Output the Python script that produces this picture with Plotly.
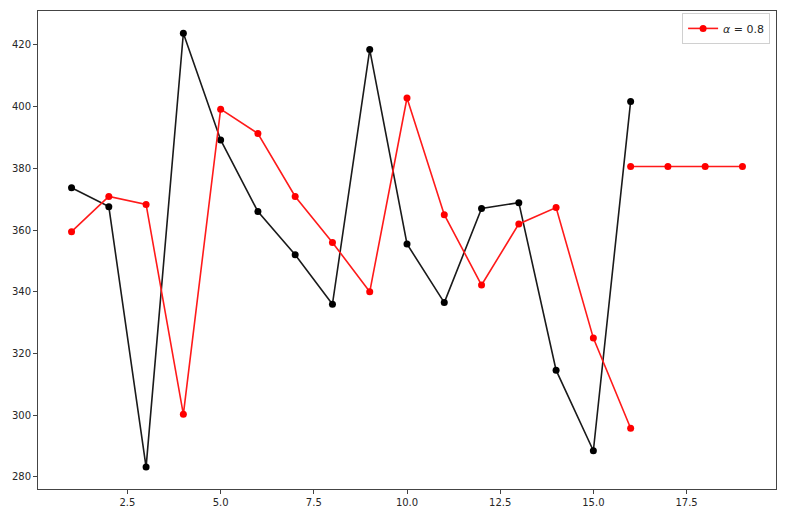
import plotly.graph_objects as go

# observed series (black)
periods = list(range(1, 17))
observed = [373.7, 367.6, 283.2, 423.8, 389.2, 366.0, 352.0, 336.0,
            418.5, 355.5, 336.5, 367.0, 368.9, 314.6, 288.5, 401.7]

# fitted values of simple exponential smoothing, alpha = 0.8 (red)
fitted = [359.5, 370.9, 368.3, 300.3, 399.2, 391.3, 370.9, 356.0,
          340.0, 402.8, 365.0, 342.2, 362.0, 367.3, 325.0, 295.8]

# forecast (red, flat)
forecast_periods = [16, 17, 18, 19]
forecast = [380.6, 380.6, 380.6, 380.6]

legend_label = "<i>α</i> = 0.8"

fig = go.Figure()

fig.add_trace(go.Scatter(
    x=periods, y=observed, mode="lines+markers",
    line=dict(color="#1a1a1a", width=1.6),
    marker=dict(color="black", size=7),
    showlegend=False,
))
fig.add_trace(go.Scatter(
    x=periods, y=fitted, mode="lines+markers",
    line=dict(color="#ff1a1a", width=1.6),
    marker=dict(color="red", size=7),
    showlegend=False,
))
fig.add_trace(go.Scatter(
    x=forecast_periods, y=forecast, mode="lines+markers",
    line=dict(color="#ff1a1a", width=1.6),
    marker=dict(color="red", size=7),
    name=legend_label,
))

axis_common = dict(
    showgrid=False, zeroline=False, showline=True, linecolor="#444444",
    linewidth=1, mirror=True, ticks="outside", ticklen=4, tickwidth=1,
    tickcolor="#444444", tickfont=dict(family="DejaVu Sans", size=10, color="#262626"),
)

fig.update_xaxes(range=[0.1, 19.9], tick0=2.5, dtick=2.5, tickformat=".1f", **axis_common)
fig.update_yaxes(range=[276.1, 431.0], tick0=280, dtick=20, **axis_common)

# page body adds an 8px margin, so the figure is shrunk to fit the window
fig.update_layout(
    width=783, height=518,
    margin=dict(l=30, r=15, t=3, b=37),
    plot_bgcolor="white", paper_bgcolor="white",
    font=dict(family="DejaVu Sans", size=10, color="#262626"),
    legend=dict(
        x=0.992, y=0.996, xanchor="right", yanchor="top",
        bordercolor="#d0d0d0", borderwidth=1, bgcolor="white",
        font=dict(size=11), itemwidth=30,
    ),
)

fig.write_html("out.html")
